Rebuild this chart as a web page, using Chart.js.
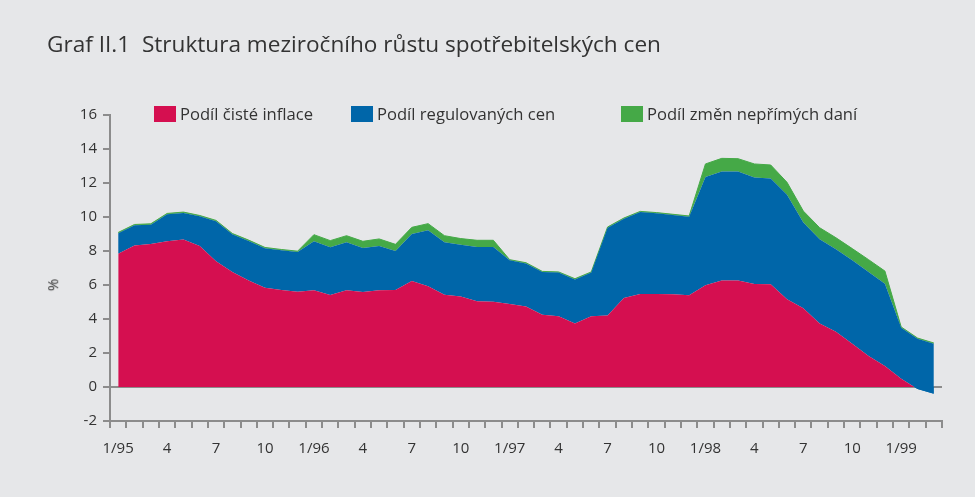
<!DOCTYPE html>
<html lang="cs">
<head>
<meta charset="utf-8">
<script src="https://cdn.jsdelivr.net/npm/chart.js@4.4.1/dist/chart.umd.min.js"></script>
<style>
  body { margin: 0; background: #e6e7e9; font-family: "Open Sans", sans-serif; color: #333; }
  #wrap { position: relative; width: 975px; height: 497px; }
  #title { position: absolute; left: 47px; top: 28px; font-size: 22.6px; white-space: nowrap; }
  #ylab { position: absolute; left: 46px; top: 275px; font-size: 15px; transform: rotate(-90deg); }
  .leg { position: absolute; top: 102px; font-size: 16.6px; display: flex; align-items: center; white-space: nowrap; }
  .leg .box { width: 22px; height: 16px; margin-right: 4px; }
  canvas { position: absolute; left: 0; top: 0; }
</style>
</head>
<body>
<div id="wrap">
  <canvas id="chart" width="975" height="497"></canvas>
  <div id="title">Graf II.1&nbsp;&nbsp;Struktura meziročního růstu spotřebitelských cen</div>
  <div id="ylab">%</div>
</div>
<script>
// monthly, 1/95 .. 3/99
const tickLabels = [
  '1/95', '', '', '4', '', '', '7', '', '', '10', '', '',
  '1/96', '', '', '4', '', '', '7', '', '', '10', '', '',
  '1/97', '', '', '4', '', '', '7', '', '', '10', '', '',
  '1/98', '', '', '4', '', '', '7', '', '', '10', '', '',
  '1/99', '', ''
];

const seriesNames = ['Podíl čisté inflace', 'Podíl regulovaných cen', 'Podíl změn nepřímých daní'];
const seriesColors = ['#d50f50', '#0066a9', '#45a947'];

const cisteInflace = [
  7.84, 8.33, 8.41, 8.57, 8.67, 8.29, 7.39, 6.76, 6.27, 5.84, 5.70, 5.61,
  5.69, 5.41, 5.69, 5.59, 5.69, 5.71, 6.24, 5.92, 5.43, 5.33, 5.04, 5.02,
  4.88, 4.73, 4.25, 4.16, 3.73, 4.16, 4.20, 5.24, 5.47, 5.47, 5.45, 5.39,
  5.98, 6.27, 6.26, 6.06, 6.04, 5.16, 4.63, 3.73, 3.25, 2.55, 1.82, 1.24,
  0.49, -0.12, -0.39
];
const regulovaneCeny = [
  1.20, 1.18, 1.14, 1.59, 1.57, 1.75, 2.36, 2.22, 2.32, 2.32, 2.34, 2.33,
  2.88, 2.81, 2.82, 2.59, 2.60, 2.29, 2.76, 3.30, 3.08, 3.04, 3.20, 3.22,
  2.57, 2.54, 2.51, 2.57, 2.60, 2.57, 5.17, 4.66, 4.82, 4.75, 4.67, 4.63,
  6.37, 6.40, 6.41, 6.27, 6.23, 6.15, 5.04, 4.96, 4.85, 4.90, 4.94, 4.84,
  3.00, 2.96, 2.94
];
const neprimeDane = [
  0.05, 0.05, 0.05, 0.05, 0.05, 0.05, 0.05, 0.05, 0.05, 0.05, 0.05, 0.05,
  0.39, 0.39, 0.39, 0.39, 0.42, 0.39, 0.39, 0.39, 0.39, 0.36, 0.39, 0.39,
  0.04, 0.04, 0.04, 0.04, 0.04, 0.04, 0.04, 0.04, 0.04, 0.04, 0.04, 0.04,
  0.77, 0.78, 0.76, 0.79, 0.79, 0.73, 0.68, 0.68, 0.68, 0.69, 0.73, 0.74,
  0.04, 0.04, 0.04
];

// legend in html, fixed spots like the original
const legendLeft = [154, 351, 621];
seriesNames.forEach((name, i) => {
  const item = document.createElement('div');
  item.className = 'leg';
  item.style.left = legendLeft[i] + 'px';
  item.innerHTML = `<span class="box" style="background:${seriesColors[i]}"></span>${name}`;
  document.getElementById('wrap').appendChild(item);
});

const axisGray = '#8c8c8c';
const tickFont = { family: 'Open Sans', size: 15 };

const ctx = document.getElementById('chart').getContext('2d');
new Chart(ctx, {
  type: 'line',
  data: {
    labels: tickLabels,
    datasets: [
      // below zero the next stacked layer shows, as in the source chart
      { label: seriesNames[0], data: cisteInflace, backgroundColor: seriesColors[0], borderWidth: 0,
        fill: { target: 'origin', above: seriesColors[0], below: seriesColors[1] } },
      { label: seriesNames[1], data: regulovaneCeny, backgroundColor: seriesColors[1],
        borderWidth: 0, fill: '-1' },
      { label: seriesNames[2], data: neprimeDane, backgroundColor: seriesColors[2],
        borderColor: seriesColors[2], borderWidth: 1, fill: '-1' }
    ]
  },
  options: {
    responsive: false,
    animation: false,
    elements: { point: { radius: 0 }, line: { tension: 0 } },
    layout: { padding: { top: 115, right: 33, left: 0, bottom: 0 } },
    plugins: { legend: { display: false }, tooltip: { enabled: false } },
    scales: {
      x: {
        offset: true,
        grid: { offset: true, drawOnChartArea: false, color: axisGray, lineWidth: 2, tickLength: 7 },
        border: { color: axisGray, width: 2 },
        ticks: { autoSkip: false, maxRotation: 0, color: '#333', font: tickFont, padding: 12 },
        afterFit: s => { s.height = 76; }
      },
      y: {
        stacked: 'single',
        min: -2,
        max: 16,
        z: 1,
        grid: {
          color: c => (c.tick && c.tick.value === 0 ? axisGray : 'rgba(0,0,0,0)'),
          tickColor: axisGray,
          lineWidth: 2,
          tickLength: 7
        },
        border: { color: axisGray, width: 2 },
        ticks: { stepSize: 2, color: '#333', font: tickFont, padding: 6 },
        afterFit: s => { s.width = 110; }
      }
    }
  }
});
</script>
</body>
</html>
